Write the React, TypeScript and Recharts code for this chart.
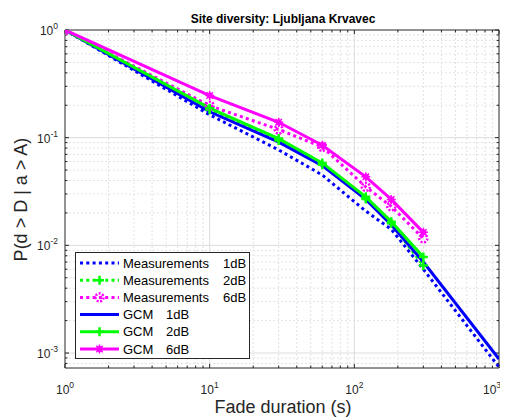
import React from "react";
import { LineChart, Line, XAxis, YAxis, ReferenceLine } from "recharts";

// fade durations (s) and exceedance probabilities
const X_MEAS_1DB = [1, 10, 30, 60, 120, 180, 300, 1000];
const Y_MEAS_1DB = [1, 0.163, 0.077, 0.045, 0.0208, 0.0141, 0.006, 0.00074];
const X_MEAS_2DB = [1, 10, 30, 60, 120, 180, 300];
const Y_MEAS_2DB = [1, 0.182, 0.094, 0.056, 0.027, 0.016, 0.0065];
const X_MEAS_6DB = [1, 10, 30, 60, 120, 180, 300];
const Y_MEAS_6DB = [1, 0.198, 0.119, 0.082, 0.0349, 0.023, 0.0116];
const X_GCM_1DB = [1, 10, 30, 60, 120, 180, 300, 1000];
const Y_GCM_1DB = [1, 0.174, 0.091, 0.055, 0.0267, 0.0155, 0.007, 0.00088];
const X_GCM_2DB = [1, 10, 30, 60, 120, 180, 300];
const Y_GCM_2DB = [1, 0.188, 0.098, 0.0583, 0.0282, 0.0166, 0.0078];
const X_GCM_6DB = [1, 10, 30, 60, 120, 180, 300];
const Y_GCM_6DB = [1, 0.246, 0.139, 0.085, 0.0433, 0.0267, 0.0132];

const X_TICKS = [1, 10, 100, 1000];
const Y_TICKS = [0.001, 0.01, 0.1, 1];
const X_DOMAIN = [1, 1000];
const Y_DOMAIN = [0.000726, 1];

const FONT = "'Liberation Sans', Arial, Helvetica, sans-serif";
const AXIS_COLOR = "#262626";

type Marker = "none" | "plus" | "circle" | "star";

const SERIES = [
  { key: "m1", name: "Measurements", level: "1dB", color: "#0000ff", dotted: true, marker: "none" as Marker, xs: X_MEAS_1DB, ys: Y_MEAS_1DB },
  { key: "m2", name: "Measurements", level: "2dB", color: "#00ff00", dotted: true, marker: "plus" as Marker, xs: X_MEAS_2DB, ys: Y_MEAS_2DB },
  { key: "m6", name: "Measurements", level: "6dB", color: "#ff00ff", dotted: true, marker: "circle" as Marker, xs: X_MEAS_6DB, ys: Y_MEAS_6DB },
  { key: "g1", name: "GCM", level: "1dB", color: "#0000ff", dotted: false, marker: "none" as Marker, xs: X_GCM_1DB, ys: Y_GCM_1DB },
  { key: "g2", name: "GCM", level: "2dB", color: "#00ff00", dotted: false, marker: "plus" as Marker, xs: X_GCM_2DB, ys: Y_GCM_2DB },
  { key: "g6", name: "GCM", level: "6dB", color: "#ff00ff", dotted: false, marker: "star" as Marker, xs: X_GCM_6DB, ys: Y_GCM_6DB },
];

const DOT_DASH = "3 3.3";

// minor grid values 2..9 per decade
function minors(lo: number, hi: number) {
  const out: number[] = [];
  for (let d = lo; d < hi; d *= 10) {
    for (let k = 2; k <= 9; k++) {
      const v = +(d * k).toPrecision(3);
      if (v > hi) break;
      out.push(v);
    }
  }
  return out;
}
const X_MINOR = minors(1, 1000);
const Y_MINOR = minors(0.0001, 1).filter((v) => v >= Y_DOMAIN[0]);

// inward tick length, as a ratio on the log axes (~4px major, ~2.5px minor)
const X_TICK_MAJOR = 1.066;
const X_TICK_MINOR = 1.04;
const Y_TICK_MAJOR = 1.09;
const Y_TICK_MINOR = 1.055;

function MarkerGlyph({ cx, cy, kind, color, dotted }: { cx: number; cy: number; kind: Marker; color: string; dotted: boolean }) {
  if (kind === "plus") {
    return (
      <path d={`M${cx - 4.5},${cy}H${cx + 4.5}M${cx},${cy - 4.5}V${cy + 4.5}`} stroke={color} strokeWidth={2.5} fill="none" />
    );
  }
  if (kind === "circle") {
    return <circle cx={cx} cy={cy} r={4} stroke={color} strokeWidth={2.5} fill="none" strokeDasharray={dotted ? "2 1.5" : undefined} />;
  }
  if (kind === "star") {
    return (
      <g>
        <circle cx={cx} cy={cy} r={3} fill={color} />
        <path
          d={`M${cx - 4.5},${cy}H${cx + 4.5}M${cx},${cy - 4.5}V${cy + 4.5}M${cx - 3.2},${cy - 3.2}L${cx + 3.2},${cy + 3.2}M${cx - 3.2},${cy + 3.2}L${cx + 3.2},${cy - 3.2}`}
          stroke={color}
          strokeWidth={1.5}
        />
      </g>
    );
  }
  return null;
}

function PowerTick(props: any) {
  const { x, y, payload, axis } = props;
  const exp = Math.round(Math.log10(payload.value));
  const isX = axis === "x";
  return (
    <text
      x={isX ? x : x + 1}
      y={isX ? y + 18 : y + 5}
      textAnchor={isX ? "middle" : "end"}
      fill={AXIS_COLOR}
      fontSize={12}
      fontFamily={FONT}
    >
      <tspan>10</tspan>
      <tspan dy={-6} fontSize={8.5}>
        {exp}
      </tspan>
    </text>
  );
}

function LegendBox() {
  const rowH = 17.2;
  return (
    <svg width={175} height={107} style={{ position: "absolute", left: 67, top: 244 }}>
      <rect x={0.5} y={0.5} width={174} height={106} fill="#fff" stroke={AXIS_COLOR} strokeWidth={1} />
      {SERIES.map((s, i) => {
        const cy = 11 + i * rowH;
        return (
          <g key={s.key}>
            <line x1={5} x2={44} y1={cy} y2={cy} stroke={s.color} strokeWidth={3} strokeDasharray={s.dotted ? DOT_DASH : undefined} />
            <MarkerGlyph cx={24.5} cy={cy} kind={s.marker} color={s.color} dotted={s.dotted} />
            <text x={48} y={cy + 4.5} fontSize={13} fontFamily={FONT} fill="#000">
              {s.name}
            </text>
            <text x={s.name === "GCM" ? 91 : 148} y={cy + 4.5} fontSize={13} fontFamily={FONT} fill="#000">
              {s.level}
            </text>
          </g>
        );
      })}
    </svg>
  );
}

function tickSegments() {
  const segs: { key: string; seg: { x: number; y: number }[] }[] = [];
  const [x0, x1] = X_DOMAIN;
  const [y0, y1] = Y_DOMAIN;
  X_TICKS.concat(X_MINOR).forEach((v) => {
    const f = X_TICKS.includes(v) ? Y_TICK_MAJOR : Y_TICK_MINOR;
    segs.push({ key: `bx${v}`, seg: [{ x: v, y: y0 }, { x: v, y: y0 * f }] });
    segs.push({ key: `tx${v}`, seg: [{ x: v, y: y1 }, { x: v, y: y1 / f }] });
  });
  Y_TICKS.concat(Y_MINOR).forEach((v) => {
    const f = Y_TICKS.includes(v) ? X_TICK_MAJOR : X_TICK_MINOR;
    segs.push({ key: `ly${v}`, seg: [{ x: x0, y: v }, { x: x0 * f, y: v }] });
    segs.push({ key: `ry${v}`, seg: [{ x: x1, y: v }, { x: x1 / f, y: v }] });
  });
  return segs;
}
const TICK_SEGMENTS = tickSegments();

export default function App() {
  return (
    <div style={{ position: "relative", width: 500, height: 411, fontFamily: FONT }}>
      <LineChart width={500} height={411} margin={{ top: 22, right: 9, bottom: 8, left: 10 }}>
        <XAxis
          dataKey="x"
          type="number"
          scale="log"
          domain={X_DOMAIN}
          ticks={X_TICKS}
          allowDataOverflow
          height={43}
          tickLine={false}
          axisLine={{ stroke: AXIS_COLOR }}
          tick={(p: any) => <PowerTick {...p} axis="x" />}
        />
        <YAxis
          dataKey="y"
          type="number"
          scale="log"
          domain={Y_DOMAIN}
          ticks={Y_TICKS}
          allowDataOverflow
          width={47}
          tickLine={false}
          axisLine={{ stroke: AXIS_COLOR }}
          tick={(p: any) => <PowerTick {...p} axis="y" />}
        />
        {X_MINOR.map((v) => (
          <ReferenceLine key={`xm${v}`} x={v} stroke="#e2e2e2" strokeDasharray="2 2" />
        ))}
        {Y_MINOR.map((v) => (
          <ReferenceLine key={`ym${v}`} y={v} stroke="#e2e2e2" strokeDasharray="2 2" />
        ))}
        {X_TICKS.slice(1, -1).map((v) => (
          <ReferenceLine key={`xM${v}`} x={v} stroke="#dcdcdc" />
        ))}
        {Y_TICKS.slice(0, -1).map((v) => (
          <ReferenceLine key={`yM${v}`} y={v} stroke="#dcdcdc" />
        ))}
        <ReferenceLine x={X_DOMAIN[1]} stroke={AXIS_COLOR} />
        <ReferenceLine y={Y_DOMAIN[1]} stroke={AXIS_COLOR} />
        {TICK_SEGMENTS.map((t) => (
          <ReferenceLine key={t.key} segment={t.seg} stroke={AXIS_COLOR} strokeWidth={1} />
        ))}
        {SERIES.map((s) => (
          <Line
            key={s.key}
            data={s.xs.map((x, i) => ({ x, y: s.ys[i] }))}
            dataKey="y"
            type="linear"
            stroke={s.color}
            strokeWidth={3}
            strokeDasharray={s.dotted ? DOT_DASH : undefined}
            isAnimationActive={false}
            dot={(p: any) => (
              <MarkerGlyph key={`${s.key}-${p.index}`} cx={p.cx} cy={p.cy} kind={s.marker} color={s.color} dotted={s.dotted} />
            )}
            activeDot={false}
          />
        ))}
      </LineChart>
      <div
        style={{
          position: "absolute",
          left: 0,
          width: 550,
          top: 4,
          textAlign: "center",
          fontSize: 12,
          fontWeight: "bold",
          color: "#000",
        }}
      >
        Site diversity: Ljubljana Krvavec
      </div>
      <div
        style={{
          position: "absolute",
          left: 0,
          width: 550,
          top: 389,
          textAlign: "center",
          fontSize: 18,
          color: AXIS_COLOR,
          whiteSpace: "nowrap",
        }}
      >
        Fade duration (s)
      </div>
      <div
        style={{
          position: "absolute",
          left: 13 - 100,
          top: 192 - 11,
          width: 200,
          textAlign: "center",
          fontSize: 18,
          color: AXIS_COLOR,
          transform: "rotate(-90deg)",
          whiteSpace: "nowrap",
        }}
      >
        P(d &gt; D | a &gt; A)
      </div>
      <LegendBox />
    </div>
  );
}
